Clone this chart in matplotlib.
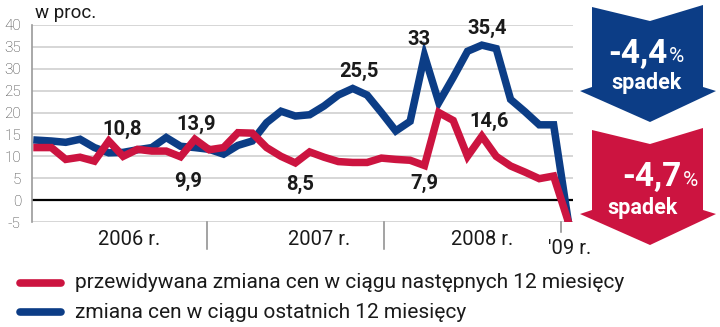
import matplotlib
matplotlib.use("Agg")
import matplotlib.pyplot as plt
from matplotlib.patches import Polygon
from matplotlib.lines import Line2D
import matplotlib.transforms as mtransforms

plt.rcParams['font.family'] = ['Roboto', 'DejaVu Sans']

# miesięczne odczyty, od grudnia 2005 do stycznia 2009
przewidywana = [12.0, 12.0, 9.3, 9.8, 8.9, 13.5, 10.0, 11.6, 11.2, 11.2,
                9.9, 13.9, 11.5, 12.0, 15.4, 15.3, 12.0, 10.0, 8.5, 11.0,
                9.8, 8.8, 8.6, 8.6, 9.6, 9.3, 9.1, 7.9, 20.0, 18.2,
                10.0, 14.6, 10.0, 7.8, 6.4, 4.9, 5.5, -4.7]
ostatnie = [13.7, 13.5, 13.2, 13.9, 12.0, 10.8, 10.9, 11.5, 12.0, 14.3,
            12.3, 12.0, 11.6, 10.5, 12.5, 13.5, 17.7, 20.3, 19.2, 19.5,
            21.5, 24.0, 25.5, 24.0, 20.0, 15.8, 18.0, 33.0, 22.3, 28.0,
            34.0, 35.4, 34.6, 23.0, 20.2, 17.2, 17.2, -4.4]

lata = ["2006 r.", "2007 r.", "2008 r.", "'09 r."]
lata_x = [6.4, 19.65, 31.0, 37.1]
granice = [11.85, 24.18, 36.52]
yticks = [-5, 0, 5, 10, 15, 20, 25, 30, 35, 40]

# (seria, indeks, x, y) etykiet wartości
etykiety = [("o", 5, 5.9, 16.1), ("p", 11, 11.1, 17.3), ("p", 10, 10.5, 4.3),
            ("p", 18, 18.3, 3.6), ("o", 22, 22.4, 29.4), ("o", 27, 26.6, 36.6),
            ("p", 27, 27.0, 3.75), ("o", 31, 31.4, 39.2), ("p", 31, 31.5, 18.0)]

legenda = ["przewidywana zmiana cen w ciągu następnych 12 miesięcy",
           "zmiana cen w ciągu ostatnich 12 miesięcy"]

RED = "#cc1440"
BLUE = "#0c3d86"


def fmt(v):
    s = f"{v:.1f}".replace(".", ",")
    return s[:-2] if s.endswith(",0") else s


W, H = 720, 327
fig = plt.figure(figsize=(W / 100, H / 100), dpi=100)
ax = fig.add_axes([32 / W, 105 / H, 541 / W, 197 / H])

x = list(range(len(ostatnie)))
ax.set_xlim(-0.35, 37.35)
ax.set_ylim(-5, 40)

for t in yticks:
    if t == 0:
        continue
    ax.axhline(t, color="#cfcfcf", lw=1.2, zorder=1)
ax.axhline(0, color="black", lw=1.6, zorder=2)

ax.plot(x, ostatnie, color=BLUE, lw=5.4, solid_joinstyle="miter", zorder=3)
ax.plot(x, przewidywana, color=RED, lw=5.4, solid_joinstyle="miter", zorder=4)

for s in ["top", "right", "bottom"]:
    ax.spines[s].set_visible(False)
ax.spines["left"].set_color("#9a9a9a")
ax.spines["left"].set_linewidth(1.2)
ax.set_xticks([])
ax.set_yticks(yticks)
ax.set_yticklabels([str(t) for t in yticks], fontsize=11, color="#3a3a3a",
                   fontweight="light")
ax.tick_params(axis="y", length=0, pad=8)

for seria, i, tx, ty in etykiety:
    v = ostatnie[i] if seria == "o" else przewidywana[i]
    ax.text(tx, ty, fmt(v), ha="center", va="center", fontsize=14.5,
            fontweight="bold", color="#1a1a1a", zorder=5)

# lata pod osią i pionowe kreski między nimi
trans = mtransforms.blended_transform_factory(ax.transData, ax.transAxes)
for i, g in enumerate(granice):
    dol = -0.05 if i == 2 else -0.135
    ax.plot([g, g], [0, dol], color="#8a8a8a", lw=1.1, transform=trans,
            clip_on=False)
for i, (lab, lx) in enumerate(zip(lata, lata_x)):
    ly = -0.132 if i == 3 else -0.088
    ax.text(lx, ly, lab, ha="center", va="center", fontsize=14.5,
            color="#1a1a1a", transform=trans)

fig.text(35 / W, 1 - 13 / H, "w proc.", ha="left", va="center",
         fontsize=13.5, color="#1a1a1a")


def strzalka(top, kolor):
    pts = [(592, top + 2), (650, top + 16), (703, top), (703, top + 82),
           (716, top + 86), (650, top + 117), (580, top + 86), (592, top + 82)]
    poly = Polygon([(px / W, 1 - py / H) for px, py in pts], closed=True,
                   transform=fig.transFigure, facecolor=kolor, edgecolor="none")
    fig.patches.append(poly)


strzalka(5, BLUE)
strzalka(128, RED)

fig.text(668 / W, 1 - 54 / H, fmt(ostatnie[-1]), ha="right", va="center",
         fontsize=24, fontweight="bold", color="white")
fig.text(669 / W, 1 - 57 / H, "%", ha="left", va="center", fontsize=15,
         color="white")
fig.text(646 / W, 1 - 83 / H, "spadek", ha="center", va="center",
         fontsize=15.5, fontweight="bold", color="white")

fig.text(682 / W, 1 - 177 / H, fmt(przewidywana[-1]), ha="right", va="center",
         fontsize=24, fontweight="bold", color="white")
fig.text(683 / W, 1 - 180 / H, "%", ha="left", va="center", fontsize=15,
         color="white")
fig.text(643 / W, 1 - 208 / H, "spadek", ha="center", va="center",
         fontsize=15.5, fontweight="bold", color="white")

# legenda
for j, (lab, kol) in enumerate(zip(legenda, [RED, BLUE])):
    ly = 1 - (283 + 29 * j) / H
    fig.add_artist(Line2D([20 / W, 61 / W], [ly, ly], color=kol, lw=5.5,
                          solid_capstyle="round", transform=fig.transFigure))
    fig.text(75 / W, ly, lab, ha="left", va="center", fontsize=15,
             color="#1a1a1a")

fig.savefig("out.png", dpi=100)
